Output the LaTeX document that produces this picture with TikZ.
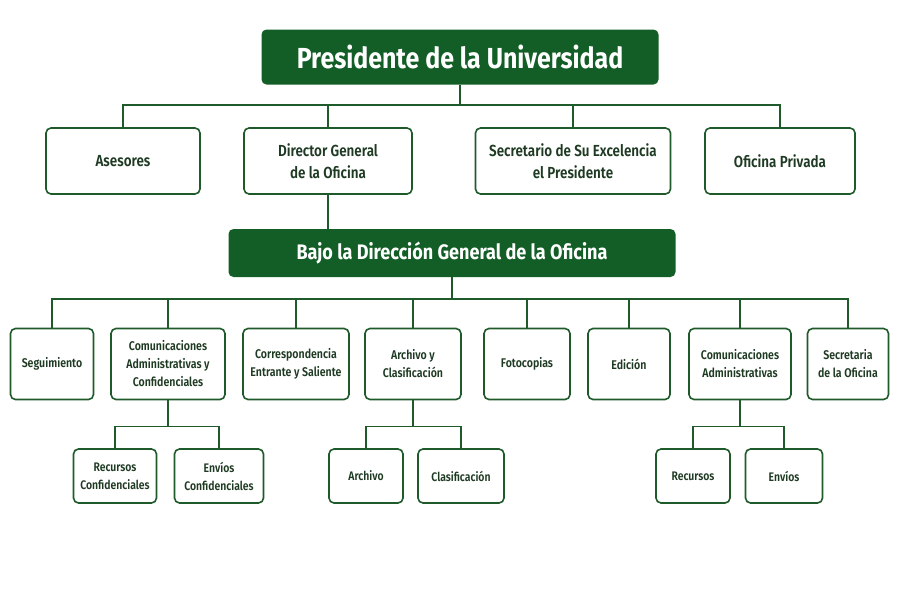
\documentclass[tikz,border=0pt]{standalone}
\usepackage{fontspec}
\setmainfont{Fira Sans}[FakeStretch=0.86]
\newfontfamily\medfont{Fira Sans SemiBold}[FakeStretch=0.84]
\usepackage{tikz}
\usetikzlibrary{positioning}
\definecolor{mdark}{HTML}{135E26}
\definecolor{mline}{HTML}{1F5A2A}
\definecolor{mtext}{HTML}{1E3A22}
\tikzset{
  headbox/.style={fill=mdark, text=white, rounded corners=5pt, inner sep=0pt, font=\bfseries},
  unitbox/.style={draw=mline, line width=1.6pt, fill=white, rounded corners=5pt,
                  align=center, text=mtext, inner sep=0pt},
  topunit/.style={unitbox, minimum height=66pt, font=\medfont\fontsize{16}{22}\selectfont},
  midunit/.style={unitbox, minimum height=71pt, font=\medfont\fontsize{12.6}{18}\selectfont},
  lowunit/.style={unitbox, minimum height=54pt, font=\medfont\fontsize{12.4}{18}\selectfont},
  link/.style={draw=mline, line width=1.6pt},
}

\begin{document}
\begin{tikzpicture}[x=1pt, y=-1pt]
  \useasboundingbox[fill=white] (0,0) rectangle (900,600);

  % cabeza
  \node[headbox, minimum width=397pt, minimum height=55pt, font=\fontsize{29}{32}\selectfont\bfseries] (pres) at (460,57) {Presidente de la Universidad};

  % primer nivel
  \node[topunit, minimum width=154pt] (ases) at (123,161) {Asesores};
  \node[topunit, minimum width=168pt] (dir) at (328,161) {Director General\\de la Oficina};
  \node[topunit, minimum width=195pt] (secr) at (573,161) {Secretario de Su Excelencia\\el Presidente};
  \node[topunit, minimum width=150pt] (priv) at (780,161) {Oficina Privada};

  \node[headbox, minimum width=447pt, minimum height=48pt, font=\fontsize{21}{24}\selectfont\bfseries] (bajo) at (452,253) {Bajo la Dirección General de la Oficina};

  % segundo nivel
  \node[midunit, minimum width=83pt] (segu) at (52,364) {Seguimiento};
  \node[midunit, minimum width=114pt] (comc) at (168,364) {Comunicaciones\\Administrativas y\\Confidenciales};
  \node[midunit, minimum width=106pt] (corr) at (296,364) {Correspondencia\\Entrante y Saliente};
  \node[midunit, minimum width=96pt] (arch) at (413,364) {Archivo y\\Clasificación};
  \node[midunit, minimum width=86pt] (foto) at (527,364) {Fotocopias};
  \node[midunit, minimum width=82pt] (edic) at (629,364) {Edición};
  \node[midunit, minimum width=102pt] (coma) at (740,364) {Comunicaciones\\Administrativas};
  \node[midunit, minimum width=81pt] (seof) at (848,364) {Secretaria\\de la Oficina};

  % tercer nivel
  \node[lowunit, minimum width=83pt] (recc) at (115,476) {Recursos\\Confidenciales};
  \node[lowunit, minimum width=89pt] (envc) at (219,476) {Envíos\\Confidenciales};
  \node[lowunit, minimum width=74pt] (archv) at (366,476) {Archivo};
  \node[lowunit, minimum width=86pt] (clas) at (461,476) {Clasificación};
  \node[lowunit, minimum width=74pt] (recu) at (693,476) {Recursos};
  \node[lowunit, minimum width=77pt] (envi) at (784,476) {Envíos};

  % conexiones
  \foreach \n in {ases, dir, secr, priv}
    \draw[link] (pres.south) -- ++(0,20) -| (\n.north);
  \draw[link] (dir.south) -- (dir.south |- bajo.north);
  \foreach \n in {segu, comc, corr, arch, foto, edic, coma, seof}
    \draw[link] (bajo.south) -- ++(0,22) -| (\n.north);
  \foreach \n in {recc, envc}
    \draw[link] (comc.south) -- ++(0,26) -| (\n.north);
  \foreach \n in {archv, clas}
    \draw[link] (arch.south) -- ++(0,26) -| (\n.north);
  \foreach \n in {recu, envi}
    \draw[link] (coma.south) -- ++(0,26) -| (\n.north);

\end{tikzpicture}
\end{document}
